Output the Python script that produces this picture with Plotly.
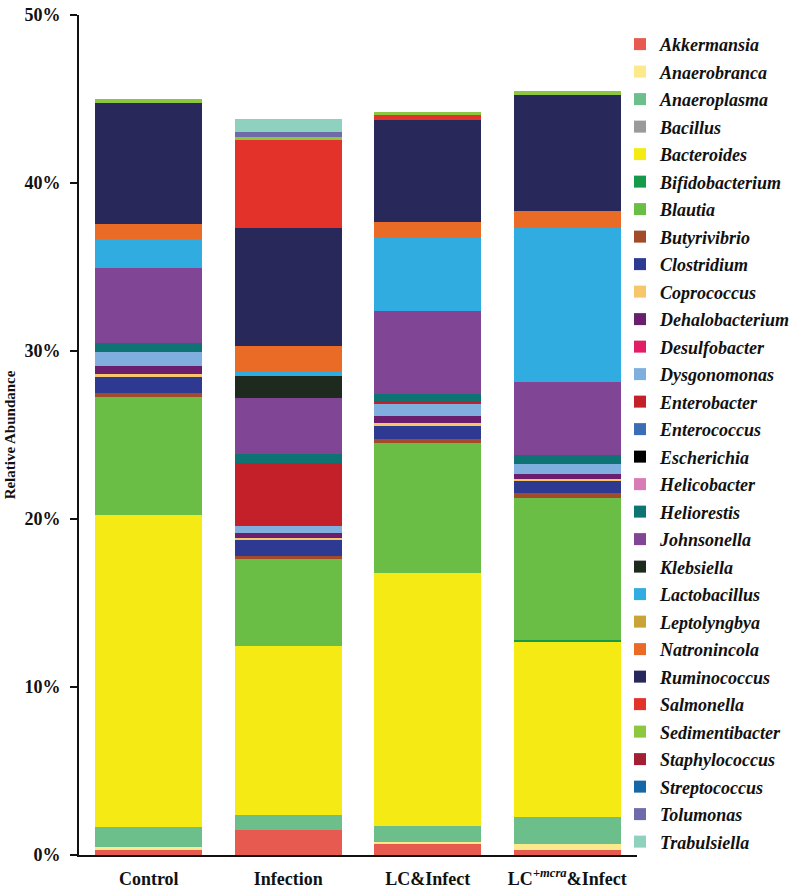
import plotly.graph_objects as go

groups = ["Control", "Infection", "LC&Infect", "LC<sup>+<i>mcra</i></sup>&Infect"]

genera = ["Akkermansia", "Anaerobranca", "Anaeroplasma", "Bacillus", "Bacteroides",
          "Bifidobacterium", "Blautia", "Butyrivibrio", "Clostridium", "Coprococcus",
          "Dehalobacterium", "Desulfobacter", "Dysgonomonas", "Enterobacter", "Enterococcus",
          "Escherichia", "Helicobacter", "Heliorestis", "Johnsonella", "Klebsiella",
          "Lactobacillus", "Leptolyngbya", "Natronincola", "Ruminococcus", "Salmonella",
          "Sedimentibacter", "Staphylococcus", "Streptococcus", "Tolumonas", "Trabulsiella"]

# Relative abundance (%) per group: Control, Infection, LC&Infect, LC+mcra&Infect
akkermansia     = [0.30, 1.49, 0.65, 0.30]
anaerobranca    = [0.16, 0.00, 0.14, 0.34]
anaeroplasma    = [1.19, 0.89, 0.95, 1.65]
bacillus        = [0.00, 0.00, 0.00, 0.00]
bacteroides     = [18.57, 10.06, 15.06, 10.42]
bifidobacterium = [0.00, 0.00, 0.00, 0.08]
blautia         = [7.02, 5.16, 7.70, 8.45]
butyrivibrio    = [0.28, 0.20, 0.24, 0.30]
clostridium     = [0.95, 0.95, 0.81, 0.73]
coprococcus     = [0.16, 0.10, 0.18, 0.12]
dehalobacterium = [0.48, 0.30, 0.40, 0.28]
desulfobacter   = [0.00, 0.00, 0.00, 0.00]
dysgonomonas    = [0.83, 0.46, 0.71, 0.60]
enterobacter    = [0.00, 3.71, 0.20, 0.00]
enterococcus    = [0.00, 0.00, 0.00, 0.00]
escherichia     = [0.00, 0.00, 0.00, 0.00]
helicobacter    = [0.00, 0.00, 0.00, 0.00]
heliorestis     = [0.52, 0.54, 0.40, 0.52]
johnsonella     = [4.46, 3.33, 4.96, 4.35]
klebsiella      = [0.00, 1.35, 0.00, 0.00]
lactobacillus   = [1.77, 0.24, 4.30, 9.19]
leptolyngbya    = [0.00, 0.00, 0.00, 0.00]
natronincola    = [0.87, 1.49, 0.99, 1.03]
ruminococcus    = [7.22, 7.04, 6.09, 6.90]
salmonella      = [0.00, 5.26, 0.26, 0.00]
sedimentibacter = [0.20, 0.16, 0.20, 0.20]
staphylococcus  = [0.00, 0.00, 0.00, 0.00]
streptococcus   = [0.00, 0.00, 0.00, 0.00]
tolumonas       = [0.00, 0.28, 0.00, 0.00]
trabulsiella    = [0.00, 0.79, 0.00, 0.00]

series = [akkermansia, anaerobranca, anaeroplasma, bacillus, bacteroides,
          bifidobacterium, blautia, butyrivibrio, clostridium, coprococcus,
          dehalobacterium, desulfobacter, dysgonomonas, enterobacter, enterococcus,
          escherichia, helicobacter, heliorestis, johnsonella, klebsiella,
          lactobacillus, leptolyngbya, natronincola, ruminococcus, salmonella,
          sedimentibacter, staphylococcus, streptococcus, tolumonas, trabulsiella]

colors = ["#E65A50", "#FBE98C", "#6CBF8A", "#9A9A9A", "#F5EA14",
          "#169A4A", "#6BBE45", "#A24A2A", "#2E3A92", "#F8C66A",
          "#6B1E6E", "#E21F66", "#7FAEDF", "#C4202A", "#3A6DB5",
          "#000000", "#D97BB5", "#0F7373", "#804594", "#1E2A1E",
          "#30ACE0", "#C9A23A", "#EA6B25", "#28295A", "#E3322A",
          "#8DC63F", "#A31F36", "#1567A5", "#6F6AA8", "#8ED1BE"]

fig = go.Figure()
for name, vals, col in zip(genera, series, colors):
    fig.add_trace(go.Bar(
        x=groups, y=vals, name=f"<i>{name}</i>",
        legendgroup=name,
        marker=dict(color=col, line=dict(width=0)),
    ))

font_fam = "Liberation Serif"

fig.update_layout(
    barmode="stack",
    bargap=0.23,
    width=800, height=892,
    margin=dict(l=79, r=163, t=15, b=37, autoexpand=False),
    plot_bgcolor="white",
    paper_bgcolor="white",
    font=dict(family=font_fam, color="#111111"),
    legend=dict(
        x=0.9695, xanchor="left", y=0.987, yanchor="top",
        traceorder="grouped", tracegroupgap=1.1,
        itemwidth=30,
        font=dict(family=font_fam, size=18, weight="bold", style="italic", color="#111111"),
        bgcolor="rgba(0,0,0,0)",
    ),
    xaxis=dict(
        range=[-0.5, 3.5],
        automargin=False,
        showline=True, linecolor="#111111", linewidth=2,
        ticks="", showgrid=False,
        ticklabelstandoff=6,
        tickfont=dict(family=font_fam, size=18, weight="bold", color="#111111"),
    ),
    yaxis=dict(
        range=[0, 50],
        automargin=False,
        dtick=10,
        ticksuffix="%",
        showline=True, linecolor="#111111", linewidth=2,
        ticks="outside", ticklen=7, tickwidth=2, tickcolor="#111111",
        showgrid=False, zeroline=False,
        tickfont=dict(family=font_fam, size=18, weight="bold", color="#111111"),
        ticklabelstandoff=6,
        title=dict(text="Relative Abundance", standoff=5,
                   font=dict(family=font_fam, size=15, weight="bold", color="#111111")),
    ),
)

fig.write_html("out.html", config={"displayModeBar": False},
               post_script="document.body.style.margin='0px';")
